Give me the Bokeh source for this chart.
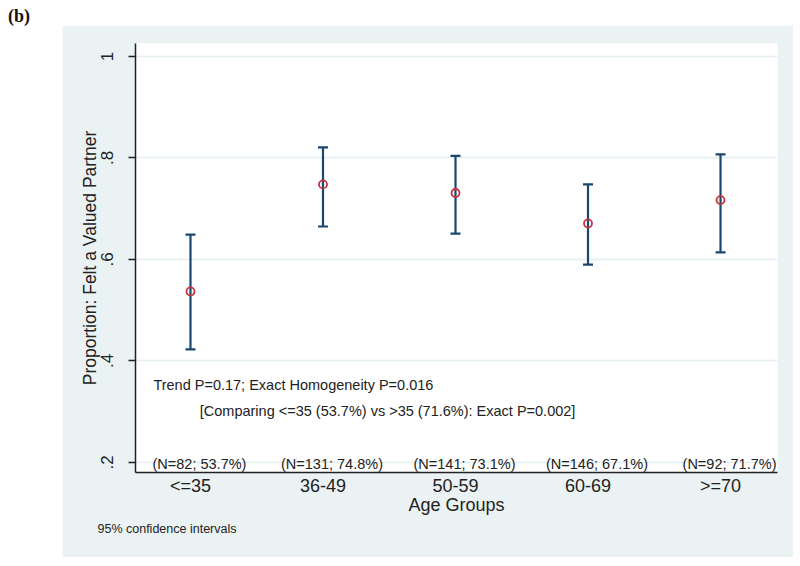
from bokeh.plotting import figure
from bokeh.models import Range1d, FixedTicker, Label, Title, Div, ColumnDataSource, Whisker, TeeHead
from bokeh.layouts import column
from bokeh.core.properties import value
from bokeh.embed import file_html
from bokeh.resources import INLINE

# ---- data ----
groups = ["<=35", "36-49", "50-59", "60-69", ">=70"]
n_obs = [82, 131, 141, 146, 92]
pct_text = ["53.7%", "74.8%", "73.1%", "67.1%", "71.7%"]
prop = [0.537, 0.748, 0.731, 0.671, 0.717]
ci_low = [0.423, 0.665, 0.651, 0.590, 0.614]
ci_high = [0.649, 0.821, 0.804, 0.748, 0.807]
y_ticks = [0.2, 0.4, 0.6, 0.8, 1.0]
y_tick_labels = [".2", ".4", ".6", ".8", "1"]
stat_line1 = "Trend P=0.17; Exact Homogeneity P=0.016"
stat_line2 = "[Comparing <=35 (53.7%) vs >35 (71.6%): Exact P=0.002]"
footnote = "95% confidence intervals"

FONT = "Liberation Sans"
BLUE_BG = "#eaf2f3"
NAVY = "#1a476f"
RED = "#c8323c"
TXT = "#222222"

xs = list(range(1, len(groups) + 1))
n_labels = ["(N=%d; %s)" % (n, p_) for n, p_ in zip(n_obs, pct_text)]

src = ColumnDataSource(dict(x=xs, prop=prop, lo=ci_low, hi=ci_high, nlab=n_labels))

p = figure(width=731, height=532,
           x_range=Range1d(0.585, 5.43), y_range=Range1d(0.1803, 1.0256),
           output_backend="svg", toolbar_location=None,
           min_border_left=73, min_border_right=16, min_border_top=18, min_border_bottom=85,
           border_fill_color=BLUE_BG, background_fill_color="white",
           outline_line_color=None, margin=(0, 0, 0, 54))

# grid
p.xgrid.visible = False
p.ygrid.ticker = FixedTicker(ticks=y_ticks)
p.ygrid.grid_line_color = "#e4eef0"
p.ygrid.grid_line_width = 1.5

# y axis
p.yaxis.ticker = FixedTicker(ticks=y_ticks)
p.yaxis.major_label_overrides = {t: l for t, l in zip(y_ticks, y_tick_labels)}
p.yaxis.major_label_orientation = "vertical"
p.yaxis.axis_label = "Proportion: Felt a Valued Partner"
p.yaxis.axis_label_text_font = FONT
p.yaxis.axis_label_text_font_size = "17.5px"
p.yaxis.axis_label_text_font_style = "normal"
p.yaxis.axis_label_text_color = TXT
p.yaxis.axis_label_standoff = -1
p.yaxis.major_label_text_font = FONT
p.yaxis.major_label_text_font_size = "17px"
p.yaxis.major_label_text_color = TXT
p.yaxis.major_label_standoff = 15
p.yaxis.major_tick_out = 7
p.yaxis.major_tick_in = 0
p.yaxis.minor_tick_out = 0
p.yaxis.minor_tick_in = 0
p.yaxis.axis_line_color = "#222222"
p.yaxis.axis_line_width = 1.5
p.yaxis.major_tick_line_color = "#222222"
p.yaxis.major_tick_line_width = 1.5

# x axis
p.xaxis.ticker = FixedTicker(ticks=xs)
p.xaxis.major_label_overrides = {x: g for x, g in zip(xs, groups)}
p.xaxis.axis_label = "Age Groups"
p.xaxis.axis_label_text_font = FONT
p.xaxis.axis_label_text_font_size = "18px"
p.xaxis.axis_label_text_font_style = "normal"
p.xaxis.axis_label_text_color = TXT
p.xaxis.axis_label_standoff = -4
p.xaxis.major_label_text_font = FONT
p.xaxis.major_label_text_font_size = "18px"
p.xaxis.major_label_text_color = TXT
p.xaxis.major_label_standoff = 3
p.xaxis.major_tick_out = 0
p.xaxis.major_tick_in = 0
p.xaxis.minor_tick_out = 0
p.xaxis.minor_tick_in = 0
p.xaxis.axis_line_color = "#222222"
p.xaxis.axis_line_width = 1.5

# error bars
wh = Whisker(source=src, base="x", upper="hi", lower="lo", dimension="height",
             line_color=NAVY, line_width=2.2,
             upper_head=TeeHead(size=10, line_color=NAVY, line_width=2.2),
             lower_head=TeeHead(size=10, line_color=NAVY, line_width=2.2))
p.add_layout(wh)

# point estimates (hollow circles)
p.scatter(x="x", y="prop", source=src, marker="circle", size=8,
          fill_alpha=0, line_color=RED, line_width=1.8)

# N labels along the bottom
p.text(x="x", y=0.198, text="nlab", source=src, x_offset=9,
       text_align="center", text_baseline="middle",
       text_font=value(FONT), text_font_size="14.5px", text_color=TXT)

# statistics text
p.add_layout(Label(x=0.72, y=0.352, text=stat_line1, text_baseline="middle",
                   text_font=FONT, text_font_size="14.5px", text_color=TXT))
p.add_layout(Label(x=1.07, y=0.302, text=stat_line2, text_baseline="middle",
                   text_font=FONT, text_font_size="14.5px", text_color=TXT))

# footnote
p.add_layout(Title(text=footnote, align="left", offset=-38, standoff=4,
                   text_font=FONT, text_font_size="12.5px", text_font_style="normal",
                   text_color=TXT), "below")

tag = Div(text="(b)", width=50, height=17, margin=(0, 0, 0, 0),
          styles={"font-family": "Liberation Serif", "font-weight": "bold",
                  "font-size": "18px", "line-height": "16px", "color": "#111"})

layout = column(tag, p, margin=(8, 0, 0, 8), spacing=0)

open("out.html", "w").write(file_html(layout, INLINE))
